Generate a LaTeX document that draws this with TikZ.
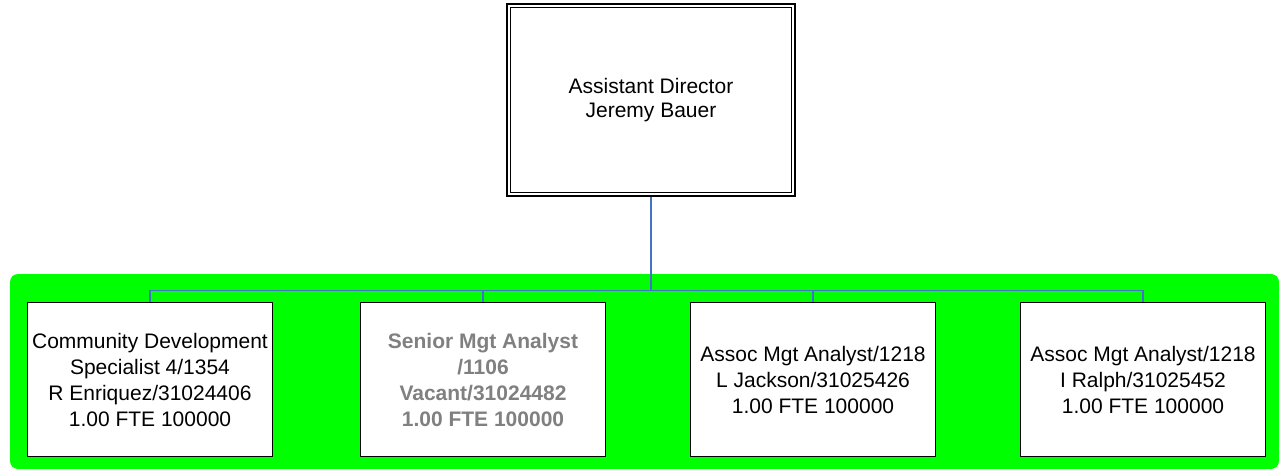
\documentclass[tikz,border=0pt]{standalone}
\usepackage{fontspec}
\setmainfont{Liberation Sans}
\usetikzlibrary{positioning, calc, backgrounds}

\definecolor{linkblue}{RGB}{68,114,196}
\definecolor{bandgreen}{RGB}{0,255,0}
\definecolor{vacantgray}{RGB}{128,128,128}

\begin{document}
\begin{tikzpicture}[
    x=1pt, y=1pt,
    topbox/.style={draw, line width=2.4pt, rectangle, minimum width=288pt, minimum height=192pt, align=center, fill=white, font=\fontsize{21}{23.5}\selectfont},
    posbox/.style={draw, line width=1.6pt, rectangle, minimum width=245pt, minimum height=154pt, align=center, fill=white, inner sep=1pt, font=\fontsize{21}{26}\selectfont},
    vacant/.style={text=vacantgray, font=\fontsize{21}{26}\selectfont\bfseries},
    link/.style={draw=linkblue, line width=1.3pt}
]

% 그림 크기 고정
\useasboundingbox (0,0) rectangle (1282,-473);

% Director Block
\node[topbox] (dir) at (651,-100) {Assistant Director\\Jeremy Bauer};
\draw[line width=1.1pt] ([shift={(4.5,-4.5)}]dir.north west) rectangle ([shift={(-4.5,4.5)}]dir.south east);

% Position Blocks
\node[posbox] (pos_cds) at (150,-379.5) {Community Development\\Specialist 4/1354\\R Enriquez/31024406\\1.00 FTE 100000};
\node[posbox, vacant] (pos_sma) at (483,-379.5) {Senior Mgt Analyst\\/1106\\Vacant/31024482\\1.00 FTE 100000};
\node[posbox] (pos_amj) at (813,-379.5) {Assoc Mgt Analyst/1218\\L Jackson/31025426\\1.00 FTE 100000};
\node[posbox] (pos_amr) at (1143,-379.5) {Assoc Mgt Analyst/1218\\I Ralph/31025452\\1.00 FTE 100000};

% Green Band
\begin{scope}[on background layer]
    \fill[bandgreen, rounded corners=8pt] (10,-274) rectangle (1279,-469);
\end{scope}

% Reporting Lines
\draw[link] (dir.south) -- ++(0,-93) coordinate (bus);
\draw[link] (bus) -| (pos_cds.north);
\draw[link] (bus) -| (pos_sma.north);
\draw[link] (bus) -| (pos_amj.north);
\draw[link] (bus) -| (pos_amr.north);

\end{tikzpicture}
\end{document}
